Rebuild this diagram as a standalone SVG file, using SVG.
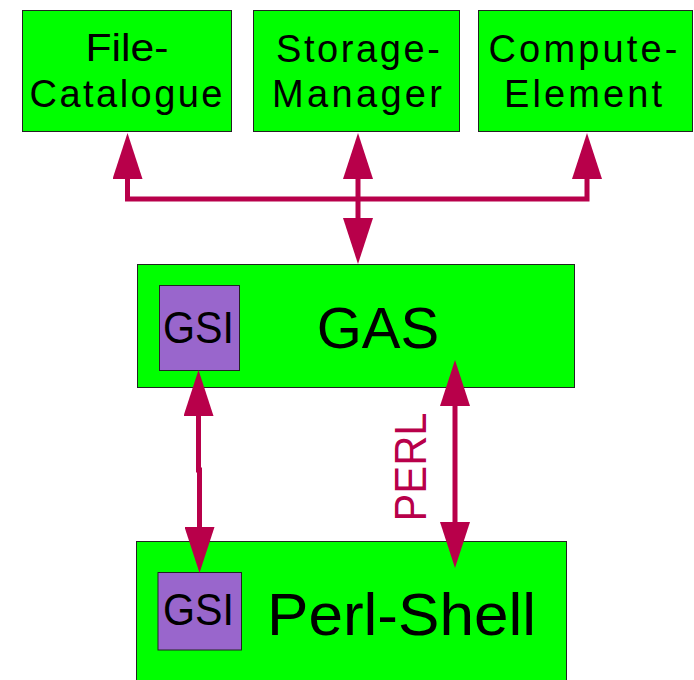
<svg xmlns="http://www.w3.org/2000/svg" width="694" height="680" viewBox="0 0 694 680">
<style>
.box{fill:#00ff00;stroke:#222;stroke-width:1}
.gsi{fill:#9966cc;stroke:#222;stroke-width:1}
.t{font-family:"Liberation Sans",Arial,sans-serif;fill:#000}
.top{font-size:38px}
.con{fill:none;stroke:#b8004a;stroke-width:5;marker-start:url(#ah);marker-end:url(#ah)}
</style>
<defs>
<marker id="ah" viewBox="0 0 46 30" refX="0" refY="15" markerWidth="46" markerHeight="30" markerUnits="userSpaceOnUse" orient="auto-start-reverse">
<path d="M0,0 L46,15 L0,30 z" fill="#b8004a"/>
</marker>
</defs>
<g id="file-catalogue">
<rect class="box" x="22.5" y="10.5" width="209" height="121"/>
<text class="t top" x="127" y="61" text-anchor="middle" textLength="83" lengthAdjust="spacingAndGlyphs">File-</text>
<text class="t top" x="126" y="107" text-anchor="middle" textLength="193" lengthAdjust="spacing">Catalogue</text>
</g>
<g id="storage-manager">
<rect class="box" x="253.5" y="10.5" width="206" height="121"/>
<text class="t top" x="358" y="62" text-anchor="middle" textLength="164" lengthAdjust="spacing">Storage-</text>
<text class="t top" x="357" y="107" text-anchor="middle" textLength="170" lengthAdjust="spacing">Manager</text>
</g>
<g id="compute-element">
<rect class="box" x="478.5" y="10.5" width="214" height="121"/>
<text class="t top" x="583" y="62" text-anchor="middle" textLength="189" lengthAdjust="spacing">Compute-</text>
<text class="t top" x="583" y="107" text-anchor="middle" textLength="158" lengthAdjust="spacing">Element</text>
</g>
<g id="gas">
<rect class="box" x="137.5" y="264.5" width="437" height="123"/>
<text class="t" x="378" y="348" font-size="58" text-anchor="middle">GAS</text>
<g id="gsi-gas">
<rect class="gsi" x="159.5" y="285.5" width="80" height="85"/>
<text class="t" x="198.5" y="343" font-size="45" text-anchor="middle" textLength="71" lengthAdjust="spacingAndGlyphs">GSI</text>
</g>
</g>
<g id="perl-shell">
<rect class="box" x="136.5" y="541.5" width="430" height="150"/>
<text class="t" x="267" y="635" font-size="60" textLength="269" lengthAdjust="spacingAndGlyphs">Perl-Shell</text>
<g id="gsi-shell">
<rect class="gsi" x="158" y="572.5" width="83.5" height="77.5"/>
<text class="t" x="198.5" y="625" font-size="44" text-anchor="middle" textLength="71" lengthAdjust="spacingAndGlyphs">GSI</text>
</g>
</g>
<g id="connectors">
<path class="con" d="M127.5,179 V199 H587 V179"/>
<path class="con" d="M358,179 V218"/>
<path class="con" d="M198.5,416 V470 H199.5 V527"/>
<path class="con" d="M455,406 V522"/>
<text class="t" x="426" y="467" font-size="45" fill="#b8004a" style="fill:#b8004a" text-anchor="middle" textLength="109" lengthAdjust="spacingAndGlyphs" transform="rotate(-90 426 467)">PERL</text>
</g>
</svg>
